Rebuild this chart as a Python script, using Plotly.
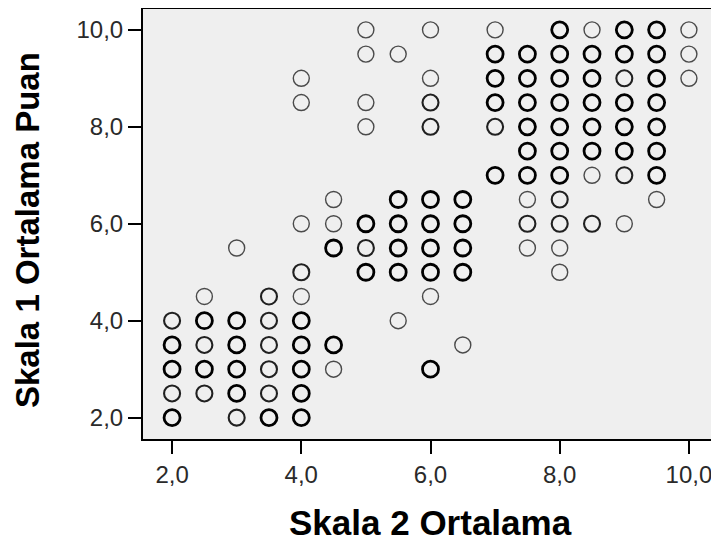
import plotly.graph_objects as go

# Scale 2 mean (x), Scale 1 mean score (y), approximate number of overlapping cases
skala2 = [5, 6, 7, 8, 8.5, 9, 9.5, 10,
          5, 5.5, 7, 7.5, 8, 8.5, 9, 9.5, 10,
          4, 6, 7, 7.5, 8, 8.5, 9, 9.5, 10,
          4, 5, 6, 7, 7.5, 8, 8.5, 9, 9.5,
          5, 6, 7, 7.5, 8, 8.5, 9, 9.5,
          7.5, 8, 8.5, 9, 9.5,
          7, 7.5, 8, 8.5, 9, 9.5,
          4.5, 5.5, 6, 6.5, 7.5, 8, 9.5,
          4, 4.5, 5, 5.5, 6, 6.5, 7.5, 8, 8.5, 9,
          3, 4.5, 5, 5.5, 6, 6.5, 7.5, 8,
          4, 5, 5.5, 6, 6.5, 8,
          2.5, 3.5, 4, 6,
          2, 2.5, 3, 3.5, 4, 5.5,
          2, 2.5, 3, 3.5, 4, 4.5, 6.5,
          2, 2.5, 3, 3.5, 4, 4.5, 6,
          2, 2.5, 3, 3.5, 4,
          2, 3, 3.5, 4]
skala1 = [10]*8 + [9.5]*9 + [9.0]*9 + [8.5]*9 + [8.0]*8 + [7.5]*5 + [7.0]*6 + \
         [6.5]*7 + [6.0]*10 + [5.5]*8 + [5.0]*6 + [4.5]*4 + [4.0]*6 + [3.5]*7 + \
         [3.0]*7 + [2.5]*5 + [2.0]*4
n_cases = [1, 1, 1, 3, 1, 3, 3, 1,
           1, 1, 3, 3, 3, 3, 3, 3, 1,
           1, 1, 3, 3, 3, 3, 2, 3, 1,
           1, 1, 2, 3, 3, 3, 3, 3, 3,
           1, 2, 2, 3, 3, 3, 3, 3,
           3, 3, 3, 3, 3,
           3, 3, 3, 1, 2, 3,
           1, 3, 3, 3, 1, 2, 1,
           1, 1, 3, 3, 3, 3, 2, 2, 2, 1,
           1, 3, 2, 3, 3, 3, 1, 1,
           2, 3, 3, 3, 3, 1,
           1, 2, 1, 1,
           2, 3, 3, 2, 3, 1,
           3, 2, 3, 2, 3, 3, 1,
           3, 3, 3, 2, 3, 1, 3,
           2, 2, 3, 2, 3,
           3, 2, 3, 3]
tick_vals = [2, 4, 6, 8, 10]

line_w = {1: 1.4, 2: 2.1, 3: 2.8}
line_c = {1: "#4a4a4a", 2: "#202020", 3: "#000000"}

fig = go.Figure()
fig.add_trace(go.Scatter(
    x=skala2, y=skala1, mode="markers",
    marker=dict(symbol="circle-open", size=16,
                color=[line_c[n] for n in n_cases],
                line=dict(width=[line_w[n] for n in n_cases],
                          color=[line_c[n] for n in n_cases])),
    showlegend=False, hoverinfo="x+y"))

axis_common = dict(
    tickvals=tick_vals, tickformat=".1f", showgrid=False, zeroline=False,
    showline=True, linecolor="#000", linewidth=2, mirror=True,
    ticks="outside", ticklen=13, tickwidth=2, tickcolor="#000",
    tickfont=dict(family="Liberation Sans, Arial, sans-serif", size=24, color="#2a2a2a"),
)
fig.update_xaxes(range=[1.55, 10.45], **axis_common)
fig.update_yaxes(range=[1.56, 10.43], **axis_common)

# page body adds an 8px offset, so the figure is sized to fit the window
fig.update_layout(
    width=711, height=533, separators=",.",
    margin=dict(l=135, r=1, t=1, b=102, autoexpand=False),
    paper_bgcolor="#ffffff", plot_bgcolor="#efefef",
    annotations=[
        dict(text="<b>Skala 2 Ortalama</b>", xref="paper", yref="paper",
             x=0.5, y=-0.195, xanchor="center", yanchor="middle", showarrow=False,
             font=dict(family="Liberation Sans, Arial, sans-serif", size=35, color="#000")),
        dict(text="<b>Skala 1 Ortalama Puan</b>", xref="paper", yref="paper",
             x=-0.201, y=0.487, xanchor="center", yanchor="middle", showarrow=False,
             textangle=-90,
             font=dict(family="Liberation Sans, Arial, sans-serif", size=33, color="#000")),
    ],
)
fig.write_html("out.html")
